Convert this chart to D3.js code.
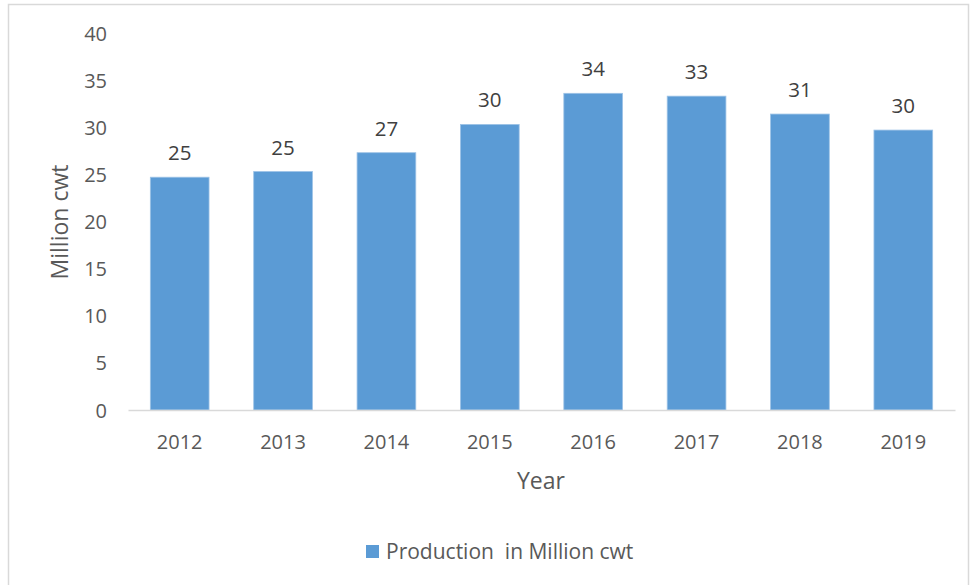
<!DOCTYPE html>
<html>
<head>
<meta charset="utf-8">
<script src="https://cdn.jsdelivr.net/npm/d3@7"></script>
<style>
  html, body { margin: 0; padding: 0; background: #fff; }
  svg { display: block; font-family: "Open Sans", "Noto Sans", sans-serif; }
</style>
</head>
<body>
<svg id="chart" width="971" height="585"></svg>
<script>
// Annual production, million cwt
const years = ["2012", "2013", "2014", "2015", "2016", "2017", "2018", "2019"];
const production = [24.7, 25.3, 27.3, 30.3, 33.6, 33.3, 31.4, 29.7];
const yTicks = [0, 5, 10, 15, 20, 25, 30, 35, 40];
const seriesName = "Production  in Million cwt";
const yTitle = "Million cwt";
const xTitle = "Year";

const svg = d3.select("#chart");
const W = 971, H = 585;
const plot = { left: 128, right: 955, top: 33, bottom: 410 };

// chart frame
svg.append("path")
  .attr("d", `M8.5,${H + 2} V4.5 H968.5 V${H + 2}`)
  .attr("fill", "none")
  .attr("stroke", "#d9d9d9")
  .attr("stroke-width", 1.5);

const x = d3.scaleBand()
  .domain(years)
  .range([plot.left, plot.right])
  .paddingInner(0.432)
  .paddingOuter(0.216);

const y = d3.scaleLinear()
  .domain([0, 40])
  .range([plot.bottom, plot.top]);

// bars
svg.append("g")
  .selectAll("rect")
  .data(years)
  .join("rect")
  .attr("x", d => x(d))
  .attr("width", x.bandwidth())
  .attr("y", (d, i) => y(production[i]))
  .attr("height", (d, i) => y(0) - y(production[i]))
  .attr("fill", "#5b9bd5")
  .attr("stroke", "#9dc3e6")
  .attr("stroke-width", 0.8);

// value labels
svg.append("g")
  .selectAll("text")
  .data(years)
  .join("text")
  .attr("x", d => x(d) + x.bandwidth() / 2)
  .attr("y", (d, i) => y(production[i]) - 17)
  .attr("text-anchor", "middle")
  .attr("fill", "#404040")
  .attr("font-size", 20.5)
  .text((d, i) => d3.format(".0f")(production[i]));

// y axis (labels only)
const yAxis = svg.append("g")
  .attr("transform", `translate(${plot.left - 21},0)`)
  .call(d3.axisLeft(y).tickValues(yTicks).tickSize(0).tickPadding(0));
yAxis.select(".domain").remove();
yAxis.selectAll("text")
  .attr("fill", "#595959")
  .attr("font-size", 20)
  .attr("font-family", "Open Sans, sans-serif")
  .attr("dy", "0.35em");

// x axis
const xAxis = svg.append("g")
  .attr("transform", `translate(0,${plot.bottom})`)
  .call(d3.axisBottom(x).tickSize(0).tickPadding(0));
xAxis.select(".domain")
  .attr("stroke", "#d9d9d9")
  .attr("stroke-width", 1.5);
xAxis.selectAll("text")
  .attr("fill", "#595959")
  .attr("font-size", 20)
  .attr("font-family", "Open Sans, sans-serif")
  .attr("y", 39)
  .attr("dy", "0");

// axis titles
svg.append("text")
  .attr("transform", `translate(68,222) rotate(-90)`)
  .attr("text-anchor", "middle")
  .attr("fill", "#595959")
  .attr("font-size", 23)
  .text(yTitle);

svg.append("text")
  .attr("x", 541)
  .attr("y", 489)
  .attr("text-anchor", "middle")
  .attr("fill", "#595959")
  .attr("font-size", 23)
  .text(xTitle);

// legend
const legend = svg.append("g").attr("transform", "translate(366,545)");
legend.append("rect")
  .attr("width", 13)
  .attr("height", 13)
  .attr("fill", "#5b9bd5");
legend.append("text")
  .attr("x", 20)
  .attr("y", 14)
  .attr("fill", "#595959")
  .attr("font-size", 21)
  .style("white-space", "pre")
  .attr("xml:space", "preserve")
  .text(seriesName);
</script>
</body>
</html>
